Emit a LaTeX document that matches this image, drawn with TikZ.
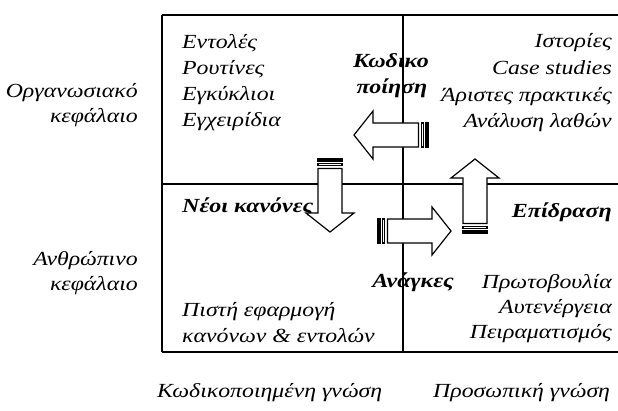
\documentclass[tikz,border=0pt]{standalone}
\usepackage{fontspec}
\setmainfont{Liberation Serif}[FakeStretch=1.19]
\newfontfamily\boldfam{Liberation Serif}[FakeStretch=1.2]
\tikzset{
  txt/.style={inner sep=0pt, font=\fontsize{20}{25}\selectfont\itshape},
  btxt/.style={inner sep=0pt, font=\fontsize{20}{25}\selectfont\boldfam\bfseries\itshape},
  gridline/.style={line width=1.6pt},
  blockarrow/.style={draw, fill=white, line width=1.2pt, line join=miter}
}
\newcommand{\striparrow}[4]{%
  \begin{scope}[shift={(#1,#2)}, rotate=#3]
    \draw[blockarrow] (0,-12) rectangle (2,12);
    \draw[blockarrow] (4.2,-12) rectangle (6.6,12);
    \draw[blockarrow] (9.5,-12) -- ({#4-19},-12) -- ({#4-19},-24) -- (#4,0)
      -- ({#4-19},24) -- ({#4-19},12) -- (9.5,12) -- cycle;
  \end{scope}}
\begin{document}
\begin{tikzpicture}[x=1pt,y=-1pt]
\useasboundingbox (0,0) rectangle (618,410);
% grid
\draw[gridline] (162,15) -- (618,15);
\draw[gridline] (162,352) -- (618,352);
\draw[gridline] (162,15) -- (162,352);
\draw[gridline] (162,184) -- (618,184);
\draw[gridline] (403,15) -- (403,352);
% top-left
\node[txt, anchor=base west] (tl1) at (182,48) {Εντολές};
\node[txt, anchor=base west] (tl2) at (182,74) {Ρουτίνες};
\node[txt, anchor=base west] (tl3) at (182,100) {Εγκύκλιοι};
\node[txt, anchor=base west] (tl4) at (182,126) {Εγχειρίδια};
% top-right
\node[txt, anchor=base east] (tr1) at (612,47) {Ιστορίες};
\node[txt, anchor=base east] (tr2) at (612,74) {Case studies};
\node[txt, anchor=base east] (tr3) at (612,101) {Άριστες πρακτικές};
\node[txt, anchor=base east] (tr4) at (612,127) {Ανάλυση λαθών};
% codification
\node[btxt, anchor=base] (k1) at (391,67) {Κωδικο};
\node[btxt, anchor=base] (k2) at (392,93) {ποίηση};
% bottom-left
\node[btxt, anchor=base west] (nk) at (182,212) {Νέοι κανόνες};
\node[txt, anchor=base west] (bl1) at (182,316) {Πιστή εφαρμογή};
\node[txt, anchor=base west] (bl2) at (182,342) {κανόνων \& εντολών};
% bottom-right
\node[btxt, anchor=base east] (ep) at (612,217) {Επίδραση};
\node[btxt, anchor=base east] (an) at (454,287) {Ανάγκες};
\node[txt, anchor=base east] (br1) at (612,288) {Πρωτοβουλία};
\node[txt, anchor=base east] (br2) at (612,313) {Αυτενέργεια};
\node[txt, anchor=base east] (br3) at (612,338) {Πειραματισμός};
% left labels
\node[txt, anchor=base east] (l1) at (138,97) {Οργανωσιακό};
\node[txt, anchor=base east] (l2) at (138,122) {κεφάλαιο};
\node[txt, anchor=base east] (l3) at (138,265) {Ανθρώπινο};
\node[txt, anchor=base east] (l4) at (138,290) {κεφάλαιο};
% bottom labels
\node[txt, anchor=base west] (b1) at (157,397) {Κωδικοποιημένη γνώση};
\node[txt, anchor=base west] (b2) at (433,397) {Προσωπική γνώση};
% arrows
\striparrow{428}{135}{180}{74}
\striparrow{330}{159}{-90}{73}
\striparrow{378}{231}{0}{73}
\striparrow{475}{233}{90}{74}
\end{tikzpicture}
\end{document}
